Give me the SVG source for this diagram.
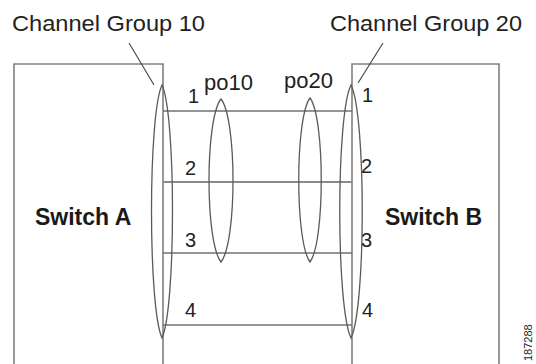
<svg xmlns="http://www.w3.org/2000/svg" width="536" height="364" viewBox="0 0 536 364">
<style>
.box{fill:none;stroke:#808080;stroke-width:1.6}
.link{fill:none;stroke:#707070;stroke-width:1.3}
.lens{fill:none;stroke:#5a5a5a;stroke-width:1.3}
.lead{fill:none;stroke:#404040;stroke-width:1.1}
.t{font-family:"Liberation Sans",Arial,sans-serif;fill:#222}
.lbl{font-size:22px}
.sw{font-size:23px;font-weight:bold;fill:#1a1a1a}
.num{font-size:20px}
.fig{font-size:11px}
</style>
<rect width="536" height="364" fill="#fff"/>
<g id="switchA">
<path class="box" d="M14,366 V64 H163 V366"/>
<text class="t sw" x="35" y="225">Switch A</text>
</g>
<g id="switchB">
<path class="box" d="M352,366 V64 H499 V366"/>
<text class="t sw" x="385" y="225">Switch B</text>
</g>
<g id="connectors">
<line class="link" x1="163" y1="111" x2="352" y2="111"/>
<line class="link" x1="163" y1="182" x2="352" y2="182" style="stroke:#8a8a8a;stroke-width:1.8"/>
<line class="link" x1="163" y1="253" x2="352" y2="253"/>
<line class="link" x1="163" y1="325" x2="352" y2="325"/>
<line class="lead" x1="129" y1="43" x2="154" y2="85"/>
<line class="lead" x1="383" y1="43" x2="358" y2="83"/>
</g>
<g id="channelGroup10">
<path class="lens" d="M162,85 C176,115 176,307 162,338 C148,307 148,115 162,85 Z"/>
<text class="t lbl" x="12" y="31" textLength="193" lengthAdjust="spacingAndGlyphs">Channel Group 10</text>
</g>
<g id="channelGroup20">
<path class="lens" d="M351,85 C366,115 366,307 351,338 C336,307 336,115 351,85 Z"/>
<text class="t lbl" x="330" y="31" textLength="192" lengthAdjust="spacingAndGlyphs">Channel Group 20</text>
</g>
<g id="po10">
<path class="lens" d="M221,99 C237,119 237,242 221,262 C205,242 205,119 221,99 Z"/>
<text class="t lbl" x="204" y="90">po10</text>
</g>
<g id="po20">
<path class="lens" d="M310,98 C325,118 325,242 310,262 C295,242 295,118 310,98 Z"/>
<text class="t lbl" x="284" y="88">po20</text>
</g>
<g id="ports">
<text class="t num" x="188" y="103">1</text>
<text class="t num" x="185" y="175">2</text>
<text class="t num" x="185" y="247">3</text>
<text class="t num" x="185" y="317">4</text>
<text class="t num" x="362" y="102">1</text>
<text class="t num" x="361" y="173">2</text>
<text class="t num" x="361" y="247">3</text>
<text class="t num" x="362" y="317">4</text>
</g>
<text class="t fig" transform="translate(532,361) rotate(-90)">187288</text>
</svg>
